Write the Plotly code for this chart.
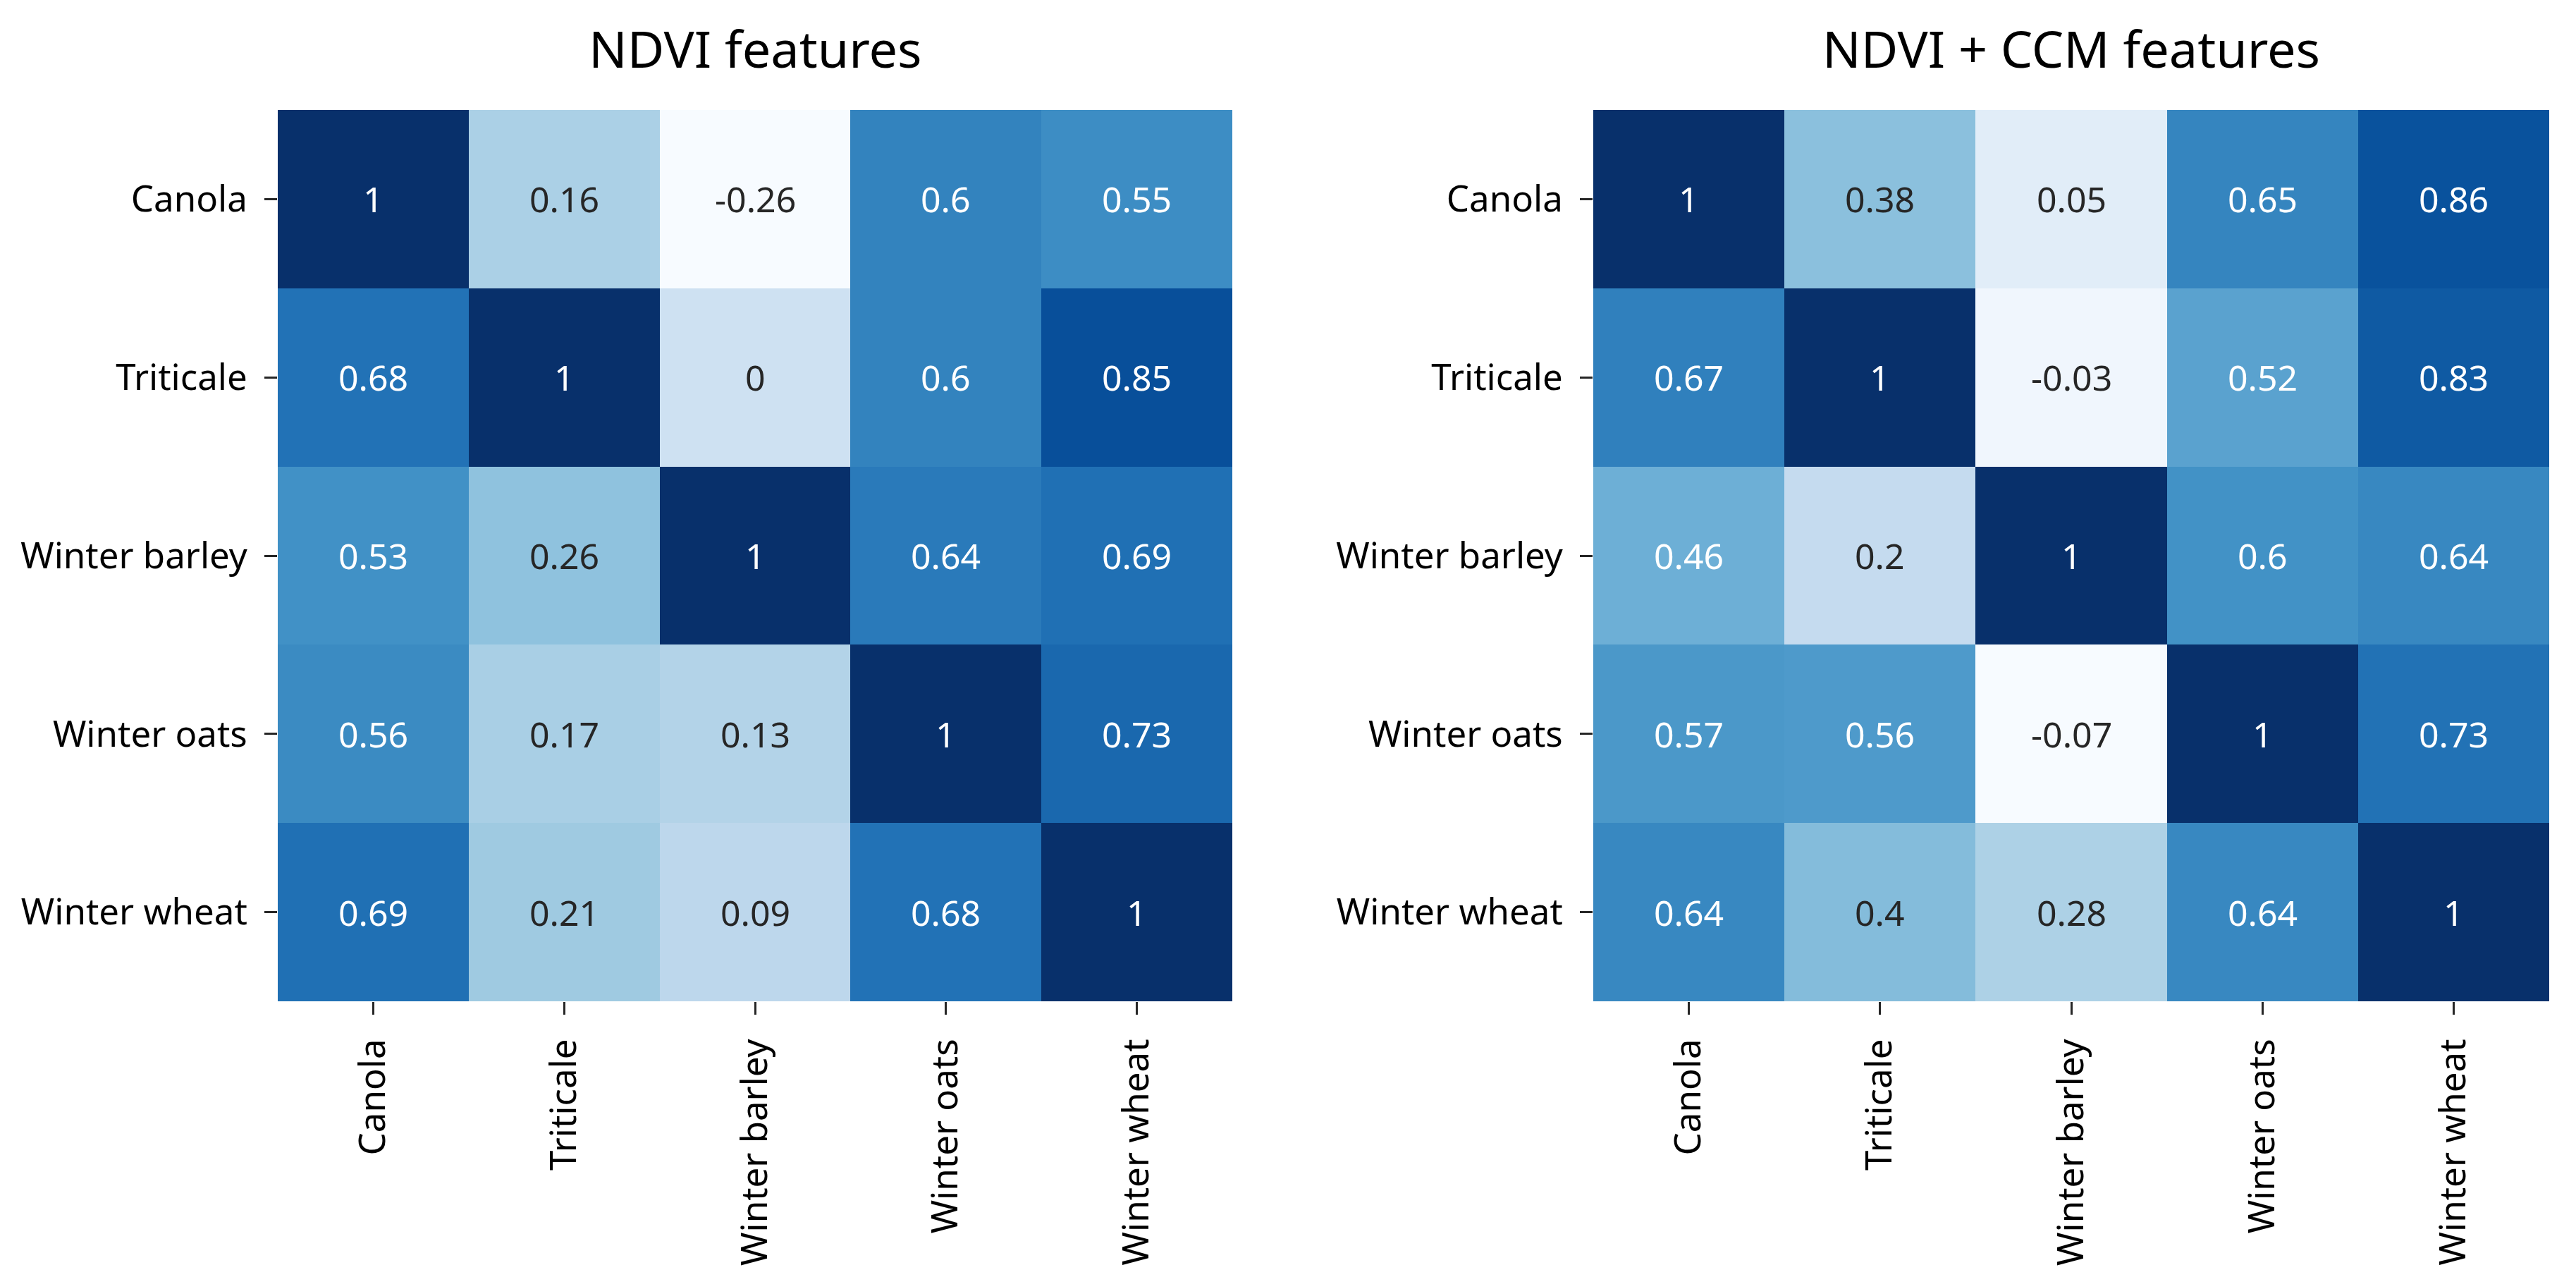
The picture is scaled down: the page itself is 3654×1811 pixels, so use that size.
import plotly.graph_objects as go

# ---- data ----
crops = ["Canola", "Triticale", "Winter barley", "Winter oats", "Winter wheat"]

ndvi = [
    [1.00, 0.16, -0.26, 0.60, 0.55],
    [0.68, 1.00, 0.00, 0.60, 0.85],
    [0.53, 0.26, 1.00, 0.64, 0.69],
    [0.56, 0.17, 0.13, 1.00, 0.73],
    [0.69, 0.21, 0.09, 0.68, 1.00],
]

ndvi_ccm = [
    [1.00, 0.38, 0.05, 0.65, 0.86],
    [0.67, 1.00, -0.03, 0.52, 0.83],
    [0.46, 0.20, 1.00, 0.60, 0.64],
    [0.57, 0.56, -0.07, 1.00, 0.73],
    [0.64, 0.40, 0.28, 0.64, 1.00],
]

titles = ["NDVI features", "NDVI + CCM features"]

# ---- style ----
W, H = 3654, 1811
blues = ["#f7fbff", "#deebf7", "#c6dbef", "#9ecae1", "#6baed6",
         "#4292c6", "#2171b5", "#08519c", "#08306b"]
colorscale = [[i / (len(blues) - 1), c] for i, c in enumerate(blues)]
FONT = "'Noto Sans', 'Open Sans', sans-serif"

def hex2rgb(h):
    h = h.lstrip("#")
    return [int(h[i:i + 2], 16) / 255 for i in (0, 2, 4)]

def cmap(t):
    t = min(max(t, 0.0), 1.0)
    n = len(blues) - 1
    i = min(int(t * n), n - 1)
    f = t * n - i
    a, b = hex2rgb(blues[i]), hex2rgb(blues[i + 1])
    return [a[k] + (b[k] - a[k]) * f for k in range(3)]

def luminance(rgb):
    def lin(c):
        return c / 12.92 if c <= 0.03928 else ((c + 0.055) / 1.055) ** 2.4
    r, g, b = (lin(c) for c in rgb)
    return 0.2126 * r + 0.7152 * g + 0.0722 * b

def fmt(v):
    return format(v, ".2g")

x_domains = [[386 / W, 1740 / W], [2252 / W, 3608 / W]]
y_domain = [1 - 1412 / H, 1 - 148 / H]

fig = go.Figure()
annotations = []
for k, (mat, title) in enumerate(zip([ndvi, ndvi_ccm], titles)):
    xa = "x" if k == 0 else "x2"
    ya = "y" if k == 0 else "y2"
    zmin = min(min(r) for r in mat)
    zmax = max(max(r) for r in mat)
    fig.add_trace(go.Heatmap(
        z=mat, x=crops, y=crops, xaxis=xa, yaxis=ya,
        colorscale=colorscale, zmin=zmin, zmax=zmax, showscale=False,
        hoverongaps=False,
    ))
    for i, row_name in enumerate(crops):
        for j, col_name in enumerate(crops):
            v = mat[i][j]
            lum = luminance(cmap((v - zmin) / (zmax - zmin)))
            color = "#ffffff" if lum <= 0.408 else "#262626"
            annotations.append(dict(
                x=col_name, y=row_name, xref=xa, yref=ya, text=fmt(v),
                showarrow=False, font=dict(family=FONT, size=50, color=color),
            ))
    xc = sum(x_domains[k]) / 2
    annotations.append(dict(
        x=xc, y=1 - 60 / H, xref="paper", yref="paper", text=title,
        showarrow=False, xanchor="center", yanchor="middle",
        font=dict(family=FONT, size=72, color="#000000"),
    ))

axis_common = dict(
    ticks="outside", ticklen=18, tickwidth=3, tickcolor="#262626",
    showgrid=False, zeroline=False, showline=False, automargin=False,
    tickfont=dict(family=FONT, size=51, color="#000000"),
    ticklabelstandoff=14,
)

fig.update_layout(
    width=W, height=H,
    margin=dict(l=0, r=0, t=0, b=0),
    paper_bgcolor="white", plot_bgcolor="white",
    annotations=annotations,
    xaxis=dict(domain=x_domains[0], anchor="y", tickangle=-90, **axis_common),
    yaxis=dict(domain=y_domain, anchor="x", autorange="reversed", **axis_common),
    xaxis2=dict(domain=x_domains[1], anchor="y2", tickangle=-90, **axis_common),
    yaxis2=dict(domain=y_domain, anchor="x2", autorange="reversed", **axis_common),
)

fig.write_html("out.html")
